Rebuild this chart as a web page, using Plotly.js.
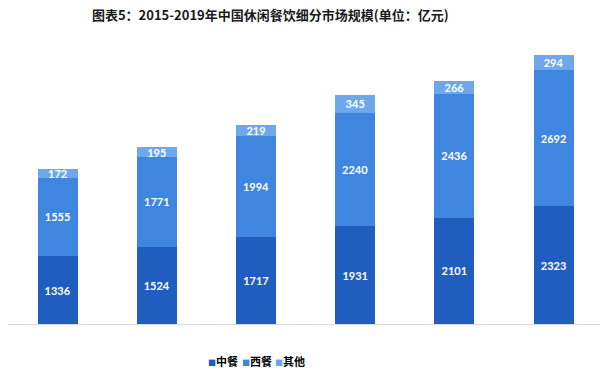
<!DOCTYPE html>
<html>
<head>
<meta charset="utf-8">
<script src="https://cdn.plot.ly/plotly-3.0.1.min.js"></script>
<style>html,body{margin:0;padding:0;background:#fff;overflow:hidden;}#chart{width:600px;height:386px;}</style>
</head>
<body>
<div id="chart"></div>
<script>
const years = ['2014', '2015', '2016', '2017', '2018', '2019'];
const chinese = [1336, 1524, 1717, 1931, 2101, 2323];
const western = [1555, 1771, 1994, 2240, 2436, 2692];
const other = [172, 195, 219, 345, 266, 294];
const seriesNames = ['中餐', '西餐', '其他'];
const colors = ['#1f5ebf', '#3f86e0', '#6ea7ec'];

const labelFont = {family: 'Lato, "Liberation Sans", sans-serif', size: 11, color: '#ffffff', weight: 'bold'};
const series = [chinese, western, other];
const traces = series.map((vals, i) => ({
  type: 'bar',
  name: seriesNames[i],
  x: years,
  y: vals,
  marker: {color: colors[i], line: {width: 0}},
  text: vals.map(String),
  texttemplate: '%{text}',
  textposition: 'inside',
  insidetextanchor: 'middle',
  textangle: 0,
  constraintext: 'none',
  insidetextfont: labelFont,
  hoverinfo: 'x+y+name',
  showlegend: false
}));

const legendX = [0.363, 0.4206, 0.476];
const annotations = seriesNames.map((n, i) => ({
  xref: 'paper', yref: 'paper',
  x: legendX[i], y: -0.1217,
  xanchor: 'center', yanchor: 'middle',
  showarrow: false,
  text: '<span style="color:' + colors[i] + ';font-size:8px">■</span><b>' + n + '</b>',
  font: {family: '"Noto Sans CJK SC", sans-serif', size: 11, color: '#000000'}
}));

const layout = {
  width: 600, height: 386,
  margin: {l: 8, r: 0, t: 20, b: 62, pad: 0},
  paper_bgcolor: '#ffffff', plot_bgcolor: '#ffffff',
  barmode: 'stack',
  bargap: 0.597,
  title: {
    text: '<b>图表5：2015-2019年中国休闲餐饮细分市场规模(单位：亿元)</b>',
    font: {family: '"Noto Sans CJK SC", sans-serif', size: 13, color: '#1a1a1a'},
    x: 0.443, xanchor: 'center', xref: 'paper',
    y: 0.961, yanchor: 'middle', yref: 'container'
  },
  xaxis: {
    type: 'category',
    range: [-0.5, 5.468], autorange: false,
    showticklabels: false, ticks: '',
    showgrid: false, zeroline: false,
    showline: true, linecolor: '#d9d9d9', linewidth: 1
  },
  yaxis: {
    range: [0, 6000], autorange: false,
    visible: false, showgrid: false, zeroline: false
  },
  annotations: annotations,
  showlegend: false
};

Plotly.newPlot('chart', traces, layout, {displayModeBar: false, staticPlot: true});
</script>
</body>
</html>
